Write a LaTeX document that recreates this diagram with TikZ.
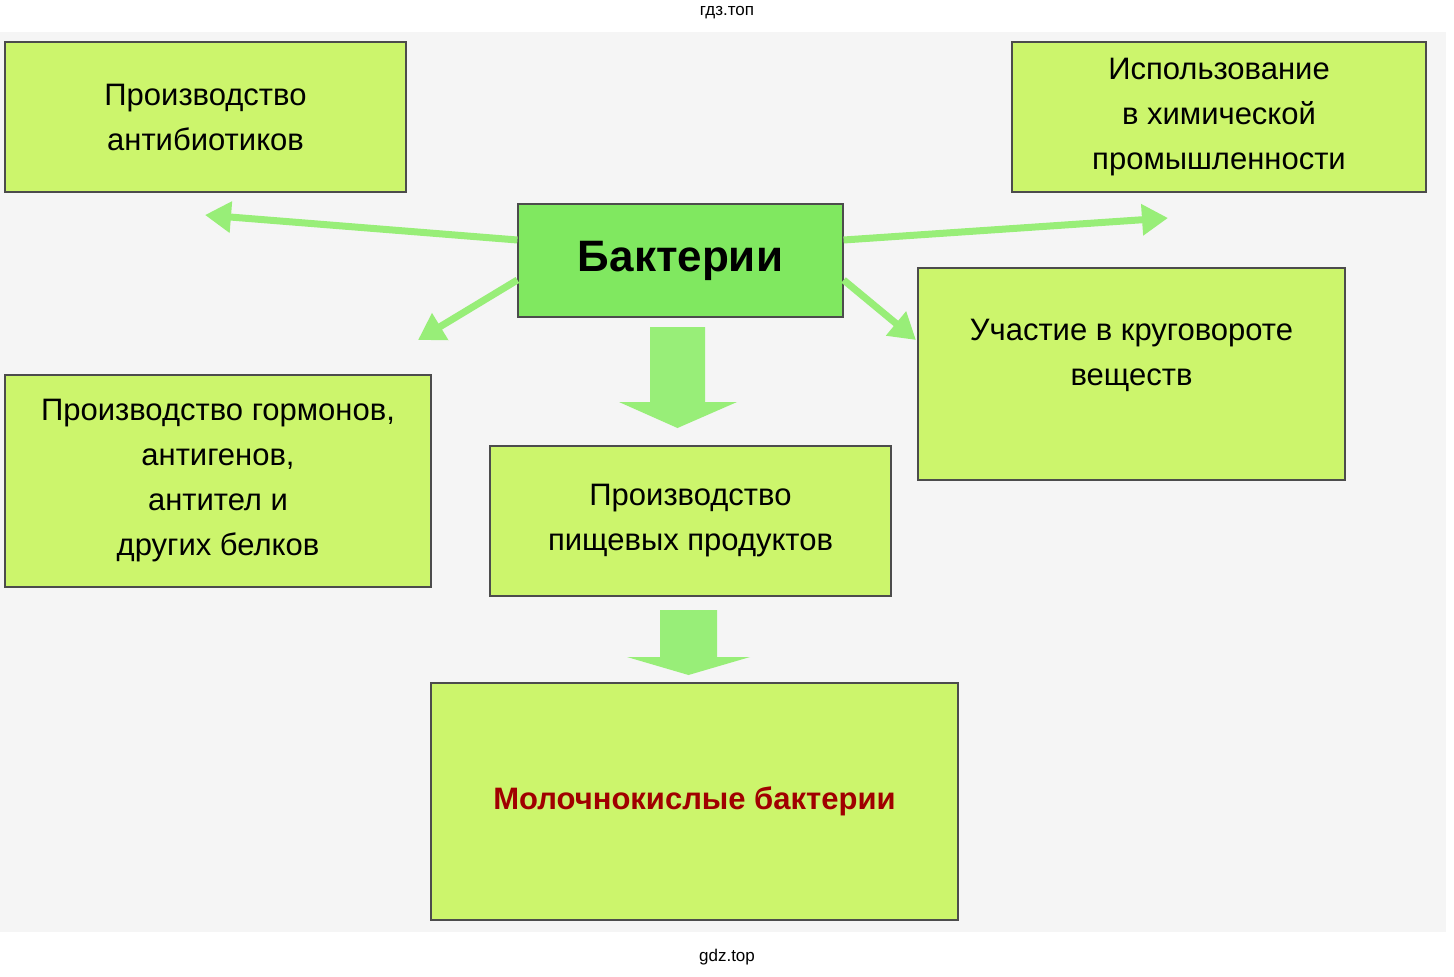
\documentclass[tikz,border=0pt]{standalone}
\usepackage{fontspec}
\setmainfont{Liberation Sans}
\usetikzlibrary{positioning, arrows.meta}
\definecolor{boxfill}{HTML}{CCF56C}
\definecolor{bactfill}{HTML}{80E860}
\definecolor{arrowgreen}{HTML}{98EE78}
\definecolor{darkred}{HTML}{A00000}
\tikzset{
box/.style={draw=black!70, line width=1.2pt, fill=boxfill, align=center, inner sep=0pt,
  font=\fontsize{31}{45}\selectfont}, % the yellow-green boxes
link/.style={draw=arrowgreen, line width=7pt, -{Triangle[length=26pt, width=30pt]}}, % thin arrows
block/.style={fill=arrowgreen, draw=none}, % wide arrows down
}
\begin{document}
\begin{tikzpicture}[x=1pt, y=-1pt]
\useasboundingbox (0,0) rectangle (1454,977);
\fill[white] (0,0) rectangle (1454,977);
\fill[black!4] (0,32) rectangle (1446,932);
\node[font=\fontsize{17}{20}\selectfont] (top) at (727,13) {гдз.топ};
\node[font=\fontsize{17}{20}\selectfont] (bot) at (727,957) {gdz.top};

\node[box, minimum width=401, minimum height=150] (antib) at (205.5,117) {Производство\\антибиотиков};
\node[box, minimum width=414, minimum height=150] (chem) at (1219,117) {Использование\\в химической\\промышленности};
\node[box, fill=bactfill, minimum width=325, minimum height=113,
  font=\fontsize{44}{50}\selectfont\bfseries] (bact) at (680.5,260.5) {Бактерии};
\node[box, minimum width=427, minimum height=212] (cycle) at (1131.5,374) {};
\node[align=center, font=\fontsize{31}{45}\selectfont] (cyclet) at (1131.5,375) {Участие в круговороте\\веществ\\[0pt]};
\node[box, minimum width=426, minimum height=212] (horm) at (218,481) {Производство гормонов,\\антигенов,\\антител и\\других белков};
\node[box, minimum width=401, minimum height=150] (food) at (690.5,521) {Производство\\пищевых продуктов};
\node[box, minimum width=527, minimum height=237, text=darkred,
  font=\fontsize{31}{45}\selectfont\bfseries] (lactic) at (694.5,801.5) {Молочнокислые бактерии};

\coordinate (antibend) at (205,215);
\coordinate (chemend) at (1168,218);
\coordinate (hormend) at (418,340);
\coordinate (cycleend) at (916,340);
\draw[link] (bact.west |- 0,240) -- (antibend);
\draw[link] (bact.east |- 0,240) -- (chemend);
\draw[link] (bact.west |- 0,280) -- (hormend);
\draw[link] (bact.east |- 0,280) -- (cycleend);

% wide arrows down
\fill[block] (650,327) -- (705,327) -- (705,402) -- (737,402) -- (677.5,428) -- (619,402) -- (650,402) -- cycle;
\fill[block] (660,610) -- (717,610) -- (717,657) -- (750,657) -- (688.5,675) -- (627,657) -- (660,657) -- cycle;
\end{tikzpicture}
\end{document}
